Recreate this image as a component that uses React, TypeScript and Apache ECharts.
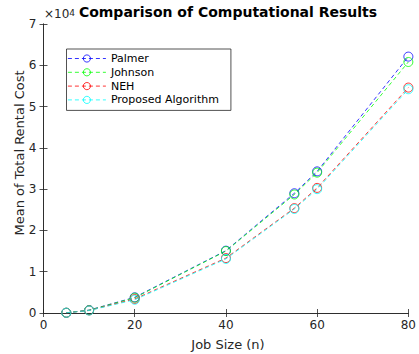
import React, { useEffect, useRef } from "react";
import * as echarts from "echarts";

const jobSizes = [5, 10, 20, 40, 55, 60, 80];
const palmer = [60, 700, 3800, 15100, 29000, 34300, 62100];
const johnson = [60, 680, 3700, 15000, 28700, 34000, 60800];
const neh = [55, 620, 3400, 13300, 25400, 30300, 54600];
const proposed = [50, 600, 3200, 13100, 25200, 30000, 54200];
const seriesNames = ["Palmer", "Johnson", "NEH", "Proposed Algorithm"];
const seriesColors = ["#0000ff", "#00ff00", "#ff0000", "#00ffff"];
const seriesValues = [palmer, johnson, neh, proposed];

const FONT = "DejaVu Sans";
const TXT = "#262626";

export default function App() {
  const ref = useRef<HTMLDivElement>(null);
  useEffect(() => {
    const chart = echarts.init(ref.current!, null, { renderer: "svg" });
    const axisLine = { show: true, lineStyle: { color: TXT, width: 0.8 } };
    const axisTick = { show: true, inside: true, length: 4, lineStyle: { color: TXT, width: 0.8 } };
    chart.setOption({
      animation: false,
      backgroundColor: "#ffffff",
      textStyle: { fontFamily: FONT },
      title: {
        text: "Comparison of Computational Results",
        left: 228,
        textAlign: "center",
        top: 5,
        padding: 0,
        textStyle: { fontFamily: FONT, fontSize: 14, fontWeight: "bold", color: "#000" },
      },
      graphic: [
        {
          type: "text",
          x: 44,
          y: 20,
          style: {
            text: "{a|×10}{b|4}",
            textVerticalAlign: "bottom",
            rich: {
              a: { fontFamily: FONT, fontSize: 12, fill: TXT },
              b: { fontFamily: FONT, fontSize: 9, fill: TXT, verticalAlign: "top" },
            },
          },
        },
        {
          type: "text",
          x: 19,
          y: 153,
          rotation: Math.PI / 2,
          style: {
            text: "Mean of Total Rental Cost",
            fontFamily: FONT,
            fontSize: 13,
            fill: TXT,
            textAlign: "center",
            textVerticalAlign: "middle",
          },
        },
        {
          type: "text",
          x: 228,
          y: 344,
          style: {
            text: "Job Size (n)",
            fontFamily: FONT,
            fontSize: 13,
            fill: TXT,
            textAlign: "center",
            textVerticalAlign: "middle",
          },
        },
      ],
      grid: { left: 43.5, right: 6, top: 24, bottom: 41, containLabel: false },
      legend: {
        orient: "vertical",
        left: 66.5,
        top: 49,
        data: seriesNames,
        borderColor: TXT,
        borderWidth: 0.8,
        borderRadius: 0,
        padding: [3, 12, 4, 1],
        itemWidth: 38,
        itemHeight: 9,
        itemGap: 0.8,
        backgroundColor: "#fff",
        itemStyle: { borderWidth: 0.8, color: "rgba(0,0,0,0)" },
        lineStyle: { width: 0.8, type: [4, 3] },
        textStyle: { fontFamily: FONT, fontSize: 11, color: "#000", lineHeight: 13 },
      },
      xAxis: [
        {
          type: "value",
          min: 0,
          max: 80,
          interval: 20,
          axisLine,
          axisTick,
          axisLabel: { fontFamily: FONT, fontSize: 12, color: TXT, margin: 6 },
          splitLine: { show: false },
        },
        {
          type: "value",
          position: "top",
          min: 0,
          max: 80,
          interval: 20,
          axisLine,
          axisTick,
          axisLabel: { show: false },
          splitLine: { show: false },
        },
      ],
      yAxis: [
        {
          type: "value",
          min: 0,
          max: 70000,
          interval: 10000,
          axisLine,
          axisTick,
          axisLabel: {
            fontFamily: FONT,
            fontSize: 12,
            color: TXT,
            margin: 7,
            formatter: (v: number) => String(v / 10000),
          },
          splitLine: { show: false },
        },
        {
          type: "value",
          position: "right",
          min: 0,
          max: 70000,
          interval: 10000,
          axisLine,
          axisTick,
          axisLabel: { show: false },
          splitLine: { show: false },
        },
      ],
      series: seriesNames.map((name, i) => ({
        name,
        type: "line",
        data: jobSizes.map((x, j) => [x, seriesValues[i][j]]),
        symbol: "circle",
        symbolSize: 9,
        showAllSymbol: true,
        lineStyle: { color: seriesColors[i], width: 0.8, type: [4, 3] },
        itemStyle: { color: "rgba(0,0,0,0)", borderColor: seriesColors[i], borderWidth: 0.8 },
        emphasis: { disabled: true },
      })),
    });
    return () => chart.dispose();
  }, []);
  return (
    <div
      ref={ref}
      style={{ position: "fixed", left: 0, top: 0, width: 419, height: 354 }}
    />
  );
}
